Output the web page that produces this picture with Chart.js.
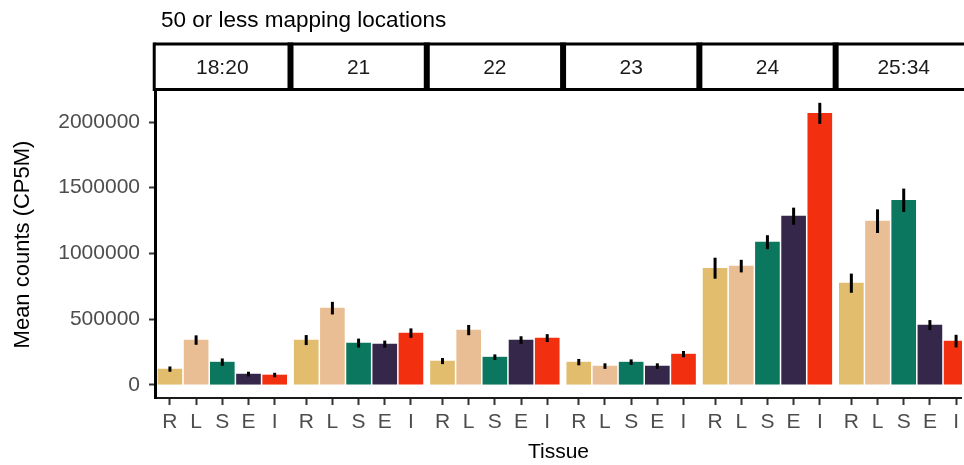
<!DOCTYPE html>
<html>
<head>
<meta charset="utf-8">
<title>Mean counts by tissue</title>
<script src="https://cdn.jsdelivr.net/npm/chart.js@4.4.1/dist/chart.umd.min.js"></script>
<style>
  html, body { margin: 0; padding: 0; background: #ffffff; overflow: hidden; }
  #wrap { position: relative; width: 964px; height: 465px; }
</style>
</head>
<body>
<div id="wrap"><canvas id="chart"></canvas></div>
<script>
// Read-length groups (facets) and tissues (bars inside each facet)
const lengthGroups = ['18:20', '21', '22', '23', '24', '25:34'];
const tissues = ['R', 'L', 'S', 'E', 'I'];

// Mean counts (CP5M) per tissue, one value per length group
const meanR = [119000, 340000, 180000, 172000, 887000, 773000];
const meanL = [340000, 583000, 416000, 142000, 903000, 1245000];
const meanS = [172000, 317000, 210000, 172000, 1085000, 1404000];
const meanE = [81000, 309000, 340000, 142000, 1283000, 454000];
const meanI = [74000, 393000, 355000, 233000, 2066000, 332000];

// Standard errors drawn as error bars
const errR = [20000, 38000, 23000, 24000, 80000, 73000];
const errL = [36000, 48000, 39000, 21000, 48000, 90000];
const errS = [28000, 34000, 21000, 21000, 53000, 89000];
const errE = [18000, 27000, 29000, 21000, 65000, 38000];
const errI = [17000, 36000, 30000, 24000, 80000, 48000];

// Y axis ticks
const yTickValues = [0, 500000, 1000000, 1500000, 2000000];
const yTickLabels = ['0', '500000', '1000000', '1500000', '2000000'];

const chartTitle = '50 or less mapping locations';
const yTitle = 'Mean counts (CP5M)';
const xTitle = 'Tissue';

const tissueColors = ['#E1BD6D', '#EABE94', '#0B775E', '#35274A', '#F2300F'];

const means = [meanR, meanL, meanS, meanE, meanI];
const errs = [errR, errL, errS, errE, errI];

// Facet geometry in x-axis units: each facet spans 5 bars plus 0.6 padding each side
const FACET_PAD = 0.6;
const FACET_SPAN = tissues.length - 1 + 2 * FACET_PAD;
const FACET_STEP = FACET_SPAN + 0.005;
const barX = (g, t) => g * FACET_STEP + FACET_PAD + t;

const FONT = "'Liberation Sans', Arial, Helvetica, sans-serif";

const datasets = tissues.map((name, t) => ({
  label: name,
  data: lengthGroups.map((_, g) => ({ x: barX(g, t), y: means[t][g] })),
  backgroundColor: tissueColors[t],
  borderWidth: 0,
  barThickness: 24,
  grouped: false,
  errors: errs[t]
}));

const tickPositions = [];
lengthGroups.forEach((_, g) => tissues.forEach((__, t) => tickPositions.push(barX(g, t))));

// Error bars: vertical black segments at mean ± error
const errorBars = {
  id: 'errorBars',
  afterDatasetsDraw(chart) {
    const { ctx, scales: { y } } = chart;
    ctx.save();
    ctx.strokeStyle = '#000000';
    ctx.lineWidth = 3;
    chart.data.datasets.forEach((ds, i) => {
      const meta = chart.getDatasetMeta(i);
      meta.data.forEach((bar, j) => {
        const v = ds.data[j].y, e = ds.errors[j];
        ctx.beginPath();
        ctx.moveTo(bar.x, y.getPixelForValue(v + e));
        ctx.lineTo(bar.x, y.getPixelForValue(v - e));
        ctx.stroke();
      });
    });
    ctx.restore();
  }
};

// Facet strips and the plot title above the panels
const facetStrips = {
  id: 'facetStrips',
  afterDraw(chart) {
    const { ctx, chartArea, scales: { x } } = chart;
    const bottom = chartArea.top - 1.5;
    const top = bottom - 45.5;
    ctx.save();
    ctx.strokeStyle = '#000000';
    ctx.fillStyle = '#1A1A1A';
    ctx.font = '21px ' + FONT;
    ctx.textAlign = 'center';
    ctx.textBaseline = 'middle';
    lengthGroups.forEach((label, g) => {
      const x0 = x.getPixelForValue(g * FACET_STEP);
      const x1 = x.getPixelForValue(g * FACET_STEP + FACET_SPAN);
      ctx.lineWidth = 3;
      ctx.beginPath();
      ctx.moveTo(x0, top); ctx.lineTo(x1, top);
      ctx.moveTo(x0, bottom); ctx.lineTo(x1, bottom);
      ctx.stroke();
      ctx.lineWidth = g === 0 ? 3 : 6;
      ctx.beginPath();
      ctx.moveTo(x0, top - 1.5); ctx.lineTo(x0, bottom + 1.5);
      ctx.stroke();
      ctx.fillText(label, (x0 + x1) / 2, (top + bottom) / 2 + 1);
    });
    ctx.fillStyle = '#000000';
    ctx.font = '22.5px ' + FONT;
    ctx.textAlign = 'left';
    ctx.textBaseline = 'alphabetic';
    ctx.fillText(chartTitle, chartArea.left + 6, 27);
    ctx.restore();
  }
};

new Chart(document.getElementById('chart'), {
  type: 'bar',
  data: { datasets },
  plugins: [errorBars, facetStrips],
  options: {
    responsive: true,
    maintainAspectRatio: false,
    animation: false,
    layout: { padding: { top: 91, left: 0, right: 0, bottom: 0 } },
    plugins: {
      legend: { display: false },
      tooltip: { enabled: false },
      title: { display: false }
    },
    scales: {
      x: {
        type: 'linear',
        offset: false,
        min: 0.03,
        max: 30.85,
        afterBuildTicks(scale) { scale.ticks = tickPositions.map(v => ({ value: v })); },
        afterFit(scale) { scale.height = 67; },
        grid: {
          display: true,
          offset: false,
          drawOnChartArea: false,
          drawTicks: true,
          tickLength: 7,
          tickColor: '#333333',
          tickWidth: 2
        },
        border: { display: true, color: '#1A1A1A', width: 2 },
        ticks: {
          autoSkip: false,
          maxRotation: 0,
          minRotation: 0,
          padding: 5,
          color: '#4D4D4D',
          font: { family: FONT, size: 21 },
          callback: (value, index) => tissues[index % tissues.length]
        },
        title: {
          display: true,
          text: xTitle,
          color: '#000000',
          font: { family: FONT, size: 21 },
          padding: { top: 0, bottom: 0 }
        }
      },
      y: {
        min: -101000,
        max: 2236000,
        afterBuildTicks(scale) { scale.ticks = yTickValues.map(v => ({ value: v })); },
        afterFit(scale) { scale.width = 155; },
        grid: {
          display: true,
          drawOnChartArea: false,
          drawTicks: true,
          tickLength: 6,
          tickColor: '#333333',
          tickWidth: 2
        },
        border: { display: true, color: '#000000', width: 3 },
        ticks: {
          padding: 9,
          color: '#4D4D4D',
          font: { family: FONT, size: 21 },
          callback: (value, index) => yTickLabels[index]
        },
        title: {
          display: true,
          text: yTitle,
          color: '#000000',
          font: { family: FONT, size: 22 },
          padding: { top: 10, bottom: 0 }
        }
      }
    }
  }
});
</script>
</body>
</html>
